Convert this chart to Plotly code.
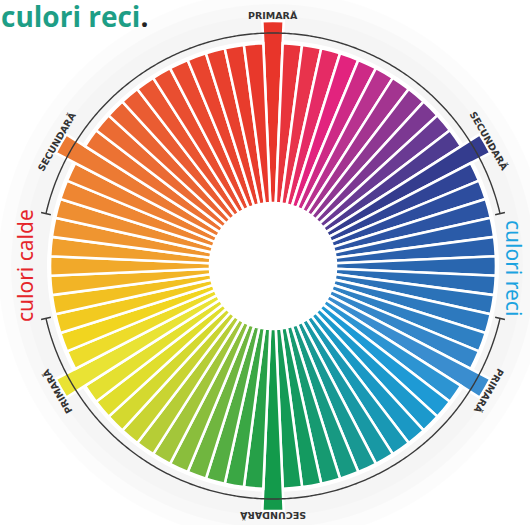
import numpy as np
import plotly.graph_objects as go

# ---------------- data ----------------
# 72 hue steps around the wheel, 5 degrees each (clockwise from top)
hue_angles = [i * 5 for i in range(72)]
# bar lengths (radial units): primaries / secondaries stick out further
bar_len = [
    182, 160, 160, 160, 160, 160, 160, 160, 160, 160, 160, 160,   # 0-55  (PRIMARĂ at 0)
    182, 160, 160, 160, 160, 160, 160, 160, 160, 160, 160, 160,   # 60-115 (SECUNDARĂ at 60)
    182, 160, 160, 160, 160, 160, 160, 160, 160, 160, 160, 160,   # 120-175 (PRIMARĂ at 120)
    182, 160, 160, 160, 160, 160, 160, 160, 160, 160, 160, 160,   # 180-235 (SECUNDARĂ at 180)
    182, 160, 160, 160, 160, 160, 160, 160, 160, 160, 160, 160,   # 240-295 (PRIMARĂ at 240)
    182, 160, 160, 160, 160, 160, 160, 160, 160, 160, 160, 160,   # 300-355 (SECUNDARĂ at 300)
]
label_angles = [0, 60, 120, 180, 240, 300]
label_texts = ["PRIMARĂ", "SECUNDARĂ", "PRIMARĂ", "SECUNDARĂ", "PRIMARĂ", "SECUNDARĂ"]
title_text = "culori reci"
warm_text = "culori calde"
cool_text = "culori reci"

# colour anchors every 10 degrees
anchors = [
    "#E8352A", "#E8334C", "#E2237E", "#B8328F", "#8E3792", "#6A3A93",
    "#343C8E", "#2D4D9E", "#2A5BA8", "#2966AF", "#2B72B8", "#2F80C3",
    "#3A8DCF", "#1E9AD5", "#1A98C4", "#1898A4", "#179982", "#149A60",
    "#139A4B", "#3AA744", "#70B63F", "#A3C63A", "#C9D432", "#E0DE2C",
    "#E9E334", "#F1D51F", "#F2C021", "#F1A92A", "#EF9530", "#EE8632",
    "#EC7A33", "#EB6B33", "#EA5C32", "#E94E30", "#E9442E", "#E83C2C",
]


def hx(c):
    return np.array([int(c[i:i + 2], 16) for i in (1, 3, 5)], float)


colors = []
for i in range(72):
    a = hx(anchors[(i // 2) % 36])
    if i % 2 == 0:
        c = a
    else:
        b = hx(anchors[(i // 2 + 1) % 36])
        c = (a + b) / 2
    colors.append("rgb(%d,%d,%d)" % tuple(np.round(c)))

# ---------------- geometry ----------------
W, H = 530, 525
CX, CY = 273, 525 - 266   # wheel centre in px (y from bottom)
R = 250                   # polar radius in px == radial range max
HOLE = 63
ARC_R = 233

fig = go.Figure()

# faint halo behind wheel, white inside
for rr, col in [(275, "rgba(0,0,0,0.012)"), (262, "rgba(0,0,0,0.014)"),
                (250, "rgba(0,0,0,0.012)"), (226, "white")]:
    fig.add_shape(type="circle", xref="paper", yref="paper",
                  x0=(CX - rr) / W, x1=(CX + rr) / W,
                  y0=(CY - rr) / H, y1=(CY + rr) / H,
                  fillcolor=col, line_width=0, layer="below")

# arcs with end ticks
arc_color = "#3a3a3a"
for start, end in [(-77, 77), (103, 257)]:
    th = np.linspace(start, end, 300)
    fig.add_trace(go.Scatterpolar(r=[ARC_R] * len(th), theta=th, mode="lines",
                                  line=dict(color=arc_color, width=1.4),
                                  hoverinfo="skip", showlegend=False))
    for t in (start, end):
        fig.add_trace(go.Scatterpolar(r=[ARC_R - 5, ARC_R + 5], theta=[t, t], mode="lines",
                                      line=dict(color=arc_color, width=1.4),
                                      hoverinfo="skip", showlegend=False))

# colour bars
fig.add_trace(go.Barpolar(
    r=bar_len, theta=hue_angles, base=HOLE, width=5,
    marker=dict(color=colors, line=dict(color="white", width=2.6)),
    opacity=1, showlegend=False, hoverinfo="skip"))

fig.update_layout(
    width=W, height=H,
    margin=dict(l=0, r=0, t=0, b=0),
    paper_bgcolor="white", plot_bgcolor="white",
    polar=dict(
        domain=dict(x=[(CX - R) / W, (CX + R) / W], y=[(CY - R) / H, (CY + R) / H]),
        bgcolor="rgba(0,0,0,0)",
        radialaxis=dict(range=[0, R], visible=False, showgrid=False),
        angularaxis=dict(direction="clockwise", rotation=90, visible=False,
                         showgrid=False, showline=False, ticks=""),
    ),
    showlegend=False,
)

# rotated labels at primaries / secondaries
LAB_R = 250
for ang, txt in zip(label_angles, label_texts):
    t = np.deg2rad(ang)
    x = CX + LAB_R * np.sin(t)
    y = CY + LAB_R * np.cos(t)
    rot = ang if ang <= 180 else ang - 360
    fig.add_annotation(x=x / W, y=y / H, xref="paper", yref="paper", text="<b>%s</b>" % txt,
                       showarrow=False, textangle=rot, xanchor="center", yanchor="middle",
                       font=dict(family="DejaVu Sans", size=9.5, color="#333333"))

# warm / cool side texts
fig.add_annotation(x=25 / W, y=(525 - 266) / H, xref="paper", yref="paper", text=warm_text,
                   showarrow=False, textangle=-90, xanchor="center", yanchor="middle",
                   font=dict(family="Noto Sans", size=21, color="#E5252A"))
fig.add_annotation(x=514 / W, y=(525 - 268) / H, xref="paper", yref="paper", text=cool_text,
                   showarrow=False, textangle=90, xanchor="center", yanchor="middle",
                   font=dict(family="Noto Sans", size=21, color="#1BA3E0"))

# title fragment top-left
fig.add_annotation(x=0, y=1.0, xref="paper", yref="paper",
                   text=title_text + '<span style="color:#222222">.</span>',
                   showarrow=False, xanchor="left", yanchor="top", xshift=-1, yshift=5,
                   font=dict(family="Open Sans", size=28, color="#1E9E86", weight=700))

fig.write_html("out.html", config={"displayModeBar": False},
               post_script="document.body.style.margin='0px';")
